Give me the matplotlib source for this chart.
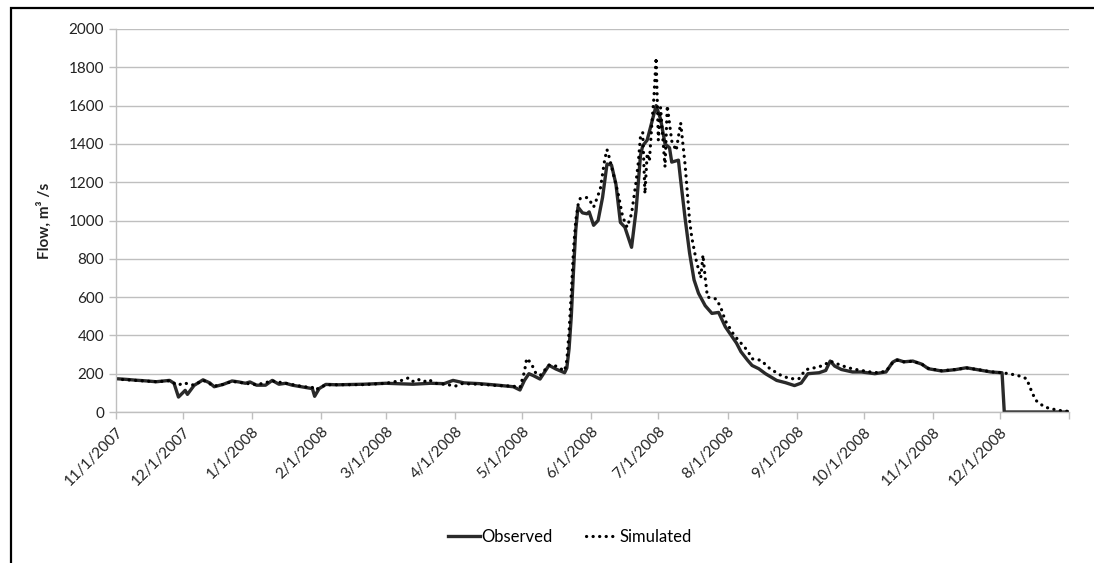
import matplotlib
matplotlib.use("Agg")
import matplotlib.pyplot as plt
from matplotlib.patches import Rectangle
import pandas as pd

plt.rcParams['font.family'] = ['Lato', 'DejaVu Sans']

# Observed daily flow (m3/s), read at the turning points of the hydrograph
obs_dates = [
    '2007-11-01', '2007-11-06', '2007-11-10', '2007-11-15', '2007-11-19', '2007-11-25',
    '2007-11-27', '2007-11-29', '2007-12-02', '2007-12-03', '2007-12-06', '2007-12-10',
    '2007-12-13', '2007-12-15', '2007-12-19', '2007-12-23', '2007-12-26', '2007-12-29',
    '2007-12-31', '2008-01-03', '2008-01-07', '2008-01-10', '2008-01-13', '2008-01-16',
    '2008-01-19', '2008-01-24', '2008-01-28', '2008-01-29', '2008-01-31', '2008-02-03',
    '2008-02-08', '2008-02-20', '2008-03-01', '2008-03-13', '2008-03-21', '2008-03-27',
    '2008-03-31', '2008-04-05', '2008-04-12', '2008-04-20', '2008-04-27', '2008-04-30',
    '2008-05-02', '2008-05-04', '2008-05-06', '2008-05-09', '2008-05-13', '2008-05-16',
    '2008-05-20', '2008-05-21', '2008-05-22', '2008-05-23', '2008-05-24', '2008-05-25',
    '2008-05-26', '2008-05-28', '2008-05-30', '2008-05-31', '2008-06-02', '2008-06-04',
    '2008-06-06', '2008-06-08', '2008-06-10', '2008-06-12', '2008-06-14', '2008-06-16',
    '2008-06-19', '2008-06-21', '2008-06-23', '2008-06-24', '2008-06-26', '2008-06-30',
    '2008-07-02', '2008-07-04', '2008-07-06', '2008-07-07', '2008-07-10', '2008-07-11',
    '2008-07-13', '2008-07-15', '2008-07-17', '2008-07-19', '2008-07-22', '2008-07-25',
    '2008-07-28', '2008-07-31', '2008-08-05', '2008-08-07', '2008-08-10', '2008-08-12',
    '2008-08-15', '2008-08-18', '2008-08-23', '2008-08-27', '2008-08-31', '2008-09-03',
    '2008-09-06', '2008-09-11', '2008-09-14', '2008-09-16', '2008-09-18', '2008-09-21',
    '2008-09-26', '2008-09-30', '2008-10-06', '2008-10-11', '2008-10-14', '2008-10-16',
    '2008-10-19', '2008-10-23', '2008-10-27', '2008-10-30', '2008-11-05', '2008-11-11',
    '2008-11-16', '2008-11-21', '2008-11-27', '2008-12-02', '2008-12-03', '2009-01-01',
]
obs_flow = [
    174, 170, 166, 162, 158, 165,
    150, 78, 113, 92, 139, 168,
    152, 132, 144, 162, 157, 150,
    157, 140, 140, 165, 145, 150,
    140, 130, 122, 82, 122, 144,
    142, 145, 150, 145, 150, 148,
    165, 152, 148, 140, 132, 115,
    165, 200, 190, 172, 244, 225,
    205, 230, 330, 500, 740, 950,
    1070, 1040, 1035, 1045, 975, 1000,
    1120, 1295, 1290, 1190, 990, 965,
    860, 1050, 1340, 1390, 1420, 1600,
    1530, 1400, 1380, 1305, 1315, 1210,
    1010, 830, 690, 620, 555, 515,
    520, 445, 360, 315, 270, 243,
    226, 200, 165, 153, 138, 151,
    200, 205, 217, 266, 240, 222,
    209, 209, 200, 209, 260, 273,
    262, 266, 250, 226, 214, 221,
    231, 221, 209, 205, 0, 0,
]

# Simulated daily flow (m3/s)
sim_dates = [
    '2007-11-01', '2007-11-10', '2007-11-19', '2007-11-25', '2007-11-27', '2007-11-29',
    '2007-12-01', '2007-12-03', '2007-12-06', '2007-12-10', '2007-12-15', '2007-12-19',
    '2007-12-23', '2007-12-29', '2008-01-03', '2008-01-10', '2008-01-16', '2008-01-24',
    '2008-01-28', '2008-01-29', '2008-01-31', '2008-02-03', '2008-02-20', '2008-03-01',
    '2008-03-08', '2008-03-11', '2008-03-13', '2008-03-15', '2008-03-18', '2008-03-20',
    '2008-03-23', '2008-03-27', '2008-03-30', '2008-04-01', '2008-04-04', '2008-04-12',
    '2008-04-20', '2008-04-27', '2008-04-30', '2008-05-02', '2008-05-03', '2008-05-05',
    '2008-05-07', '2008-05-09', '2008-05-13', '2008-05-16', '2008-05-20', '2008-05-21',
    '2008-05-22', '2008-05-23', '2008-05-24', '2008-05-25', '2008-05-26', '2008-05-27',
    '2008-05-30', '2008-05-31', '2008-06-02', '2008-06-03', '2008-06-05', '2008-06-07',
    '2008-06-08', '2008-06-09', '2008-06-11', '2008-06-13', '2008-06-15', '2008-06-17',
    '2008-06-19', '2008-06-21', '2008-06-22', '2008-06-23', '2008-06-24', '2008-06-25',
    '2008-06-26', '2008-06-27', '2008-06-28', '2008-06-29', '2008-06-30', '2008-07-01',
    '2008-07-02', '2008-07-03', '2008-07-04', '2008-07-05', '2008-07-07', '2008-07-09',
    '2008-07-11', '2008-07-13', '2008-07-15', '2008-07-16', '2008-07-18', '2008-07-20',
    '2008-07-21', '2008-07-22', '2008-07-23', '2008-07-27', '2008-07-29', '2008-07-31',
    '2008-08-04', '2008-08-10', '2008-08-12', '2008-08-16', '2008-08-20', '2008-08-25',
    '2008-08-29', '2008-09-02', '2008-09-05', '2008-09-09', '2008-09-13', '2008-09-16',
    '2008-09-19', '2008-09-24', '2008-09-28', '2008-10-06', '2008-10-11', '2008-10-14',
    '2008-10-16', '2008-10-19', '2008-10-23', '2008-10-27', '2008-10-30', '2008-11-05',
    '2008-11-11', '2008-11-16', '2008-11-21', '2008-11-27', '2008-12-02', '2008-12-05',
    '2008-12-09', '2008-12-13', '2008-12-15', '2008-12-17', '2008-12-21', '2008-12-27',
    '2009-01-01',
]
sim_flow = [
    172, 165, 158, 163, 150, 140,
    152, 148, 140, 166, 135, 144,
    160, 150, 142, 162, 150, 132,
    128, 115, 125, 142, 143, 150,
    165, 178, 160, 172, 158, 170,
    150, 145, 140, 135, 148, 145,
    138, 135, 128, 210, 280, 255,
    205, 190, 245, 240, 215, 270,
    420, 620, 850, 1000, 1080, 1115,
    1120, 1110, 1070, 1100, 1165, 1320,
    1370, 1330, 1235, 1140, 1020, 965,
    1035, 1200, 1300, 1440, 1460, 1140,
    1350, 1310, 1490, 1640, 1850, 1420,
    1590, 1430, 1280, 1600, 1415, 1365,
    1510, 1290, 1000, 910, 790, 700,
    820, 700, 600, 590, 545, 477,
    400, 320, 278, 270, 226, 191,
    174, 174, 221, 231, 243, 266,
    252, 231, 221, 205, 212, 258,
    270, 262, 265, 250, 228, 215,
    222, 230, 222, 210, 205, 200,
    191, 174, 115, 62, 26, 9,
    3,
]

months = pd.date_range('2007-11-01', '2009-01-01', freq='MS')

fig = plt.figure(figsize=(10.94, 5.63), dpi=100)
ax = fig.add_axes([116 / 1094, 1 - 412 / 563, (1069 - 116) / 1094, (412 - 29) / 563])

ax.plot(pd.to_datetime(obs_dates), obs_flow, color='#2a2a2a', lw=2.4,
        solid_joinstyle='round', label='Observed')
ax.plot(pd.to_datetime(sim_dates), sim_flow, color='black', lw=2.3,
        linestyle=(0, (0.05, 2.0)), dash_capstyle='round', label='Simulated')

ax.set_xlim(months[0], months[-1])
ax.set_ylim(0, 2000)
ax.set_yticks(range(0, 2001, 200))
ax.set_xticks(months)
ax.set_xticklabels([f'{m.month}/{m.day}/{m.year}' for m in months[:-1]] + [''],
                   rotation=45, ha='right', rotation_mode='anchor')

grid_c = '#bfbfbf'
ax.grid(axis='y', color=grid_c, lw=1.0)
ax.set_axisbelow(True)
for s in ['top', 'right']:
    ax.spines[s].set_visible(False)
for s in ['left', 'bottom']:
    ax.spines[s].set_color(grid_c)
    ax.spines[s].set_linewidth(1.0)
ax.tick_params(axis='both', colors=grid_c, length=5, width=1.0, labelsize=11,
               labelcolor='#222222')
ax.tick_params(axis='x', pad=4)

ax.set_ylabel('Flow, m³ /s', fontsize=11, fontweight='bold', color='#222222', labelpad=12)

fig.legend(loc='center', bbox_to_anchor=(0.521, 0.046), ncol=2, frameon=False,
           fontsize=12, handlelength=1.9, columnspacing=2.0, handletextpad=0.1)

# chart frame (only the top and left edges fall inside the image)
fig.patches.append(Rectangle((11 / 1094, -0.2), 1.2, 1 - 8 / 563 + 0.2,
                             transform=fig.transFigure, fill=False,
                             edgecolor='black', lw=1.6))

fig.savefig('out.png', dpi=100)
